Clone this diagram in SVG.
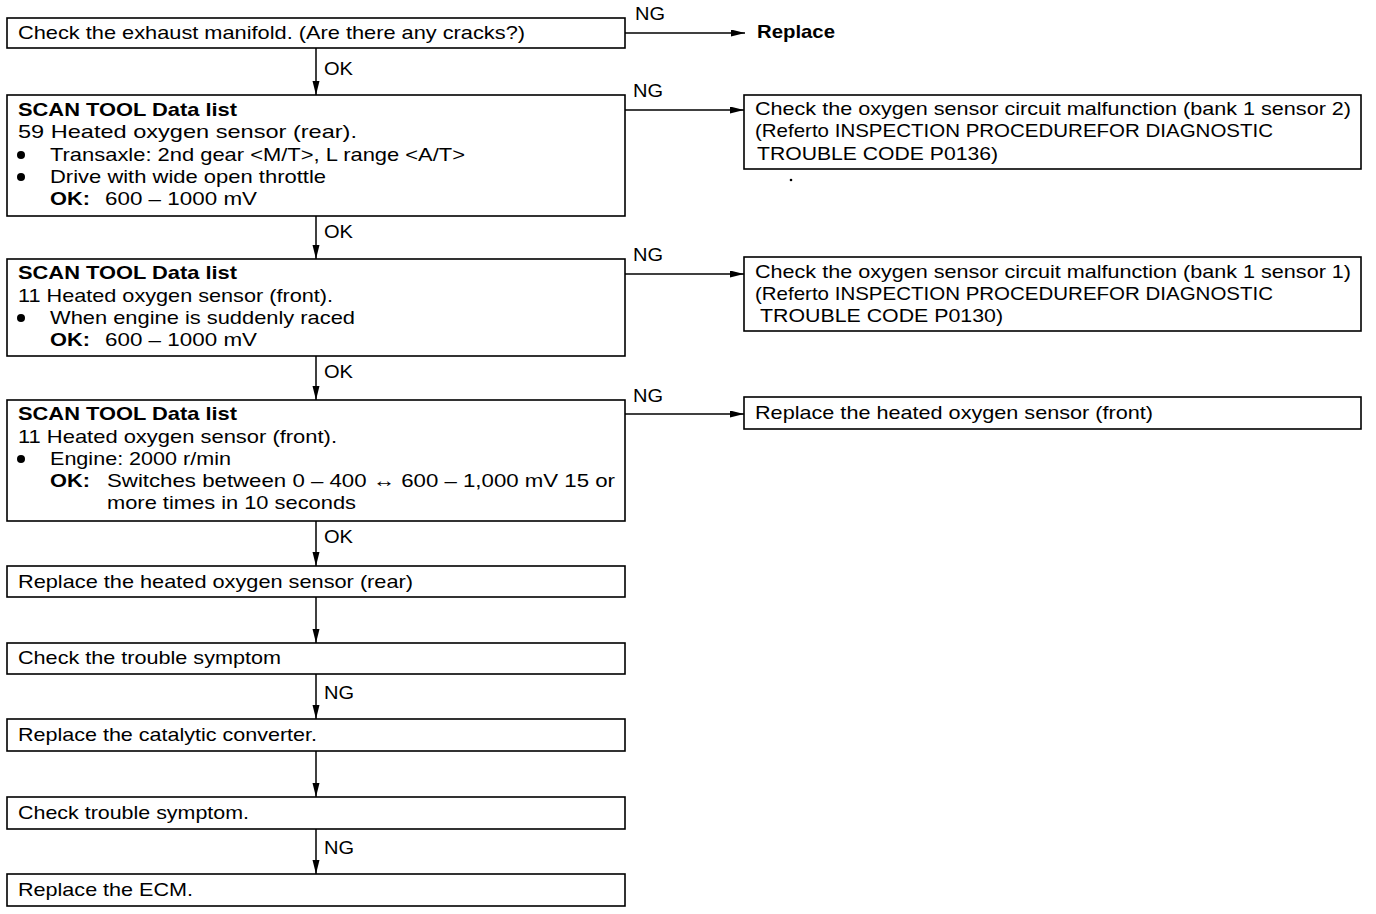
<svg xmlns="http://www.w3.org/2000/svg" width="1376" height="914" viewBox="0 0 1376 914">
<defs>
<style>
.box{fill:#fff;stroke:#000;stroke-width:1.6}
.ln{fill:none;stroke:#000;stroke-width:1.5}
text{font-family:"Liberation Sans",Arial,Helvetica,sans-serif;font-size:18.5px;fill:#000}
.b{font-weight:bold}
</style>
<marker id="ah" markerUnits="userSpaceOnUse" markerWidth="15" markerHeight="8" refX="14" refY="3.5" orient="auto">
<path d="M0,0 L14,3.5 L0,7 z" fill="#000"/>
</marker>
</defs>
<rect width="1376" height="914" fill="#fff"/>

<g id="connectors">
<line class="ln" x1="316" y1="48" x2="316" y2="95" marker-end="url(#ah)"/>
<line class="ln" x1="316" y1="216" x2="316" y2="259" marker-end="url(#ah)"/>
<line class="ln" x1="316" y1="356" x2="316" y2="400" marker-end="url(#ah)"/>
<line class="ln" x1="316" y1="521" x2="316" y2="566" marker-end="url(#ah)"/>
<line class="ln" x1="316" y1="597" x2="316" y2="643" marker-end="url(#ah)"/>
<line class="ln" x1="316" y1="674" x2="316" y2="719" marker-end="url(#ah)"/>
<line class="ln" x1="316" y1="751" x2="316" y2="797" marker-end="url(#ah)"/>
<line class="ln" x1="316" y1="829" x2="316" y2="874" marker-end="url(#ah)"/>
<line class="ln" x1="625" y1="33" x2="745" y2="33" marker-end="url(#ah)"/>
<line class="ln" x1="625" y1="110" x2="744" y2="110" marker-end="url(#ah)"/>
<line class="ln" x1="625" y1="274" x2="744" y2="274" marker-end="url(#ah)"/>
<line class="ln" x1="625" y1="414" x2="744" y2="414" marker-end="url(#ah)"/>
<text x="324" y="75" textLength="29" lengthAdjust="spacingAndGlyphs">OK</text>
<text x="324" y="238" textLength="29" lengthAdjust="spacingAndGlyphs">OK</text>
<text x="324" y="378" textLength="29" lengthAdjust="spacingAndGlyphs">OK</text>
<text x="324" y="543" textLength="29" lengthAdjust="spacingAndGlyphs">OK</text>
<text x="324" y="699" textLength="30" lengthAdjust="spacingAndGlyphs">NG</text>
<text x="324" y="854" textLength="30" lengthAdjust="spacingAndGlyphs">NG</text>
<text x="635" y="20" textLength="30" lengthAdjust="spacingAndGlyphs">NG</text>
<text x="633" y="97" textLength="30" lengthAdjust="spacingAndGlyphs">NG</text>
<text x="633" y="261" textLength="30" lengthAdjust="spacingAndGlyphs">NG</text>
<text x="633" y="402" textLength="30" lengthAdjust="spacingAndGlyphs">NG</text>
</g>

<g id="n1">
<rect class="box" x="7" y="18" width="618" height="30"/>
<text x="18" y="39" textLength="507" lengthAdjust="spacingAndGlyphs">Check the exhaust manifold. (Are there any cracks?)</text>
</g>

<g id="replace">
<text class="b" x="757" y="38" textLength="78" lengthAdjust="spacingAndGlyphs">Replace</text>
</g>

<g id="n2">
<rect class="box" x="7" y="95" width="618" height="121"/>
<text class="b" x="18" y="116" textLength="219" lengthAdjust="spacingAndGlyphs">SCAN TOOL Data list</text>
<text x="18" y="138" textLength="339" lengthAdjust="spacingAndGlyphs">59 Heated oxygen sensor (rear).</text>
<circle cx="21" cy="155" r="4"/>
<text x="50" y="161" textLength="415" lengthAdjust="spacingAndGlyphs">Transaxle: 2nd gear &lt;M/T&gt;, L range &lt;A/T&gt;</text>
<circle cx="21" cy="177" r="4"/>
<text x="50" y="183" textLength="276" lengthAdjust="spacingAndGlyphs">Drive with wide open throttle</text>
<text class="b" x="50" y="205" textLength="40" lengthAdjust="spacingAndGlyphs">OK:</text>
<text x="105" y="205" textLength="152" lengthAdjust="spacingAndGlyphs">600 – 1000 mV</text>
</g>

<g id="r1">
<rect class="box" x="744" y="95" width="617" height="74"/>
<text x="755" y="115" textLength="596" lengthAdjust="spacingAndGlyphs">Check the oxygen sensor circuit malfunction (bank 1 sensor 2)</text>
<text x="755" y="137" textLength="518" lengthAdjust="spacingAndGlyphs">(Referto INSPECTION PROCEDUREFOR DIAGNOSTIC</text>
<text x="757" y="160" textLength="241" lengthAdjust="spacingAndGlyphs">TROUBLE CODE P0136)</text>
<circle cx="791" cy="180" r="1.3"/>
</g>

<g id="n3">
<rect class="box" x="7" y="259" width="618" height="97"/>
<text class="b" x="18" y="279" textLength="219" lengthAdjust="spacingAndGlyphs">SCAN TOOL Data list</text>
<text x="18" y="302" textLength="315" lengthAdjust="spacingAndGlyphs">11 Heated oxygen sensor (front).</text>
<circle cx="21" cy="318" r="4"/>
<text x="50" y="324" textLength="305" lengthAdjust="spacingAndGlyphs">When engine is suddenly raced</text>
<text class="b" x="50" y="346" textLength="40" lengthAdjust="spacingAndGlyphs">OK:</text>
<text x="105" y="346" textLength="152" lengthAdjust="spacingAndGlyphs">600 – 1000 mV</text>
</g>

<g id="r2">
<rect class="box" x="744" y="257" width="617" height="74"/>
<text x="755" y="278" textLength="596" lengthAdjust="spacingAndGlyphs">Check the oxygen sensor circuit malfunction (bank 1 sensor 1)</text>
<text x="755" y="300" textLength="518" lengthAdjust="spacingAndGlyphs">(Referto INSPECTION PROCEDUREFOR DIAGNOSTIC</text>
<text x="760" y="322" textLength="243" lengthAdjust="spacingAndGlyphs">TROUBLE CODE P0130)</text>
</g>

<g id="n4">
<rect class="box" x="7" y="400" width="618" height="121"/>
<text class="b" x="18" y="420" textLength="219" lengthAdjust="spacingAndGlyphs">SCAN TOOL Data list</text>
<text x="18" y="443" textLength="319" lengthAdjust="spacingAndGlyphs">11 Heated oxygen sensor (front).</text>
<circle cx="21" cy="459" r="4"/>
<text x="50" y="465" textLength="181" lengthAdjust="spacingAndGlyphs">Engine: 2000 r/min</text>
<text class="b" x="50" y="487" textLength="40" lengthAdjust="spacingAndGlyphs">OK:</text>
<text x="107" y="487" textLength="508" lengthAdjust="spacingAndGlyphs">Switches between 0 – 400 ↔ 600 – 1,000 mV 15 or</text>
<text x="107" y="509" textLength="249" lengthAdjust="spacingAndGlyphs">more times in 10 seconds</text>
</g>

<g id="r3">
<rect class="box" x="744" y="397" width="617" height="32"/>
<text x="755" y="419" textLength="398" lengthAdjust="spacingAndGlyphs">Replace the heated oxygen sensor (front)</text>
</g>

<g id="n5">
<rect class="box" x="7" y="566" width="618" height="31"/>
<text x="18" y="588" textLength="395" lengthAdjust="spacingAndGlyphs">Replace the heated oxygen sensor (rear)</text>
</g>

<g id="n6">
<rect class="box" x="7" y="643" width="618" height="31"/>
<text x="18" y="664" textLength="263" lengthAdjust="spacingAndGlyphs">Check the trouble symptom</text>
</g>

<g id="n7">
<rect class="box" x="7" y="719" width="618" height="32"/>
<text x="18" y="741" textLength="299" lengthAdjust="spacingAndGlyphs">Replace the catalytic converter.</text>
</g>

<g id="n8">
<rect class="box" x="7" y="797" width="618" height="32"/>
<text x="18" y="819" textLength="231" lengthAdjust="spacingAndGlyphs">Check trouble symptom.</text>
</g>

<g id="n9">
<rect class="box" x="7" y="874" width="618" height="32"/>
<text x="18" y="896" textLength="175" lengthAdjust="spacingAndGlyphs">Replace the ECM.</text>
</g>
</svg>
